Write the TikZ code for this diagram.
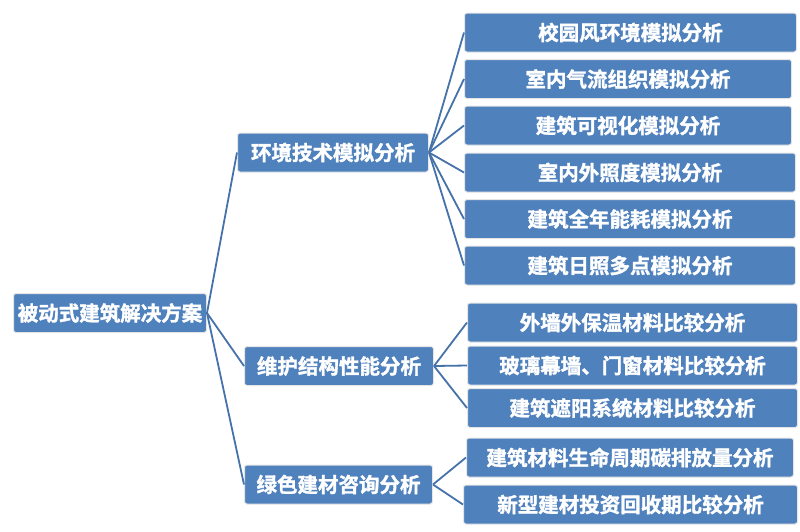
\documentclass[tikz,border=0pt]{standalone}
\usepackage{fontspec}
\setmainfont{Noto Sans CJK SC}[BoldFont={Noto Sans CJK SC Bold}, BoldFeatures={FakeBold=1.5}]
\definecolor{boxblue}{HTML}{4F81BD}
\definecolor{lineblue}{HTML}{4672AA}
\tikzset{
    box/.style={fill=boxblue, draw=black!10, line width=1pt, rounded corners=2.5pt,
        text=white, font=\bfseries\fontsize{20.5}{20.5}\selectfont,
        minimum height=39pt, inner sep=0pt, anchor=west},
    link/.style={draw=lineblue, line width=1.8pt}
}
\begin{document}
\begin{tikzpicture}[x=1pt,y=-1pt]
            \useasboundingbox (0,0) rectangle (800,531);
            \node[box, minimum width=193pt] (root) at (13,313) {被动式建筑解决方案};
            \node[box, minimum width=191pt] (env) at (237,152.5) {环境技术模拟分析};
            \node[box, minimum width=189pt] (wall) at (244,366) {维护结构性能分析};
            \node[box, minimum width=188pt] (green) at (244,484.5) {绿色建材咨询分析};
            \node[box, minimum width=332pt] (env1) at (464,32.5) {校园风环境模拟分析};
            \node[box, minimum width=327pt] (env2) at (464,79) {室内气流组织模拟分析};
            \node[box, minimum width=327pt] (env3) at (464,125.5) {建筑可视化模拟分析};
            \node[box, minimum width=331pt] (env4) at (464,172.5) {室内外照度模拟分析};
            \node[box, minimum width=331pt] (env5) at (464,219) {建筑全年能耗模拟分析};
            \node[box, minimum width=331pt] (env6) at (464,265.5) {建筑日照多点模拟分析};
            \node[box, minimum width=330pt] (wall1) at (467,322.5) {外墙外保温材料比较分析};
            \node[box, minimum width=330pt] (wall2) at (467,365.5) {玻璃幕墙、门窗材料比较分析};
            \node[box, minimum width=330pt] (wall3) at (467,408) {建筑遮阳系统材料比较分析};
            \node[box, minimum width=327pt] (green1) at (466,457.5) {建筑材料生命周期碳排放量分析};
            \node[box, minimum width=334pt] (green2) at (463,504.5) {新型建材投资回收期比较分析};
            \foreach \t in {env,wall,green}
                \draw[link] (root.east) -- (\t.west);
            \foreach \i in {1,...,6}
                \draw[link] (env.east) -- (env\i.west);
            \foreach \i in {1,2,3}
                \draw[link] (wall.east) -- (wall\i.west);
            \foreach \i in {1,2}
                \draw[link] (green.east) -- (green\i.west);
        \end{tikzpicture}
\end{document}
